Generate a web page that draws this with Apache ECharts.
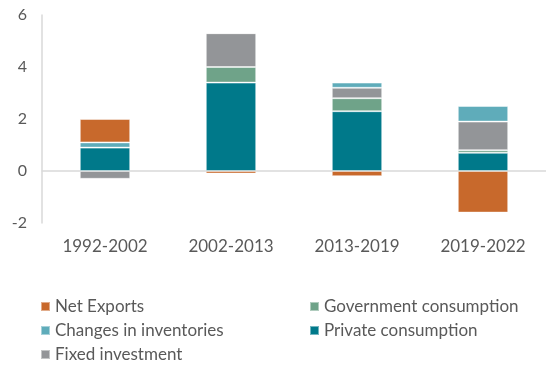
<!DOCTYPE html>
<html>
<head>
<meta charset="utf-8">
<script src="https://cdn.jsdelivr.net/npm/echarts@6/dist/echarts.min.js"></script>
<style>
  html, body { margin: 0; padding: 0; background: #fff; }
  #chart { width: 546px; height: 366px; }
</style>
</head>
<body>
<div id="chart"></div>
<script>
// Periods on the category axis
const periods = ['1992-2002', '2002-2013', '2013-2019', '2019-2022'];

// Contributions to growth, percentage points
const privateConsumption = [0.9, 3.4, 2.3, 0.7];
const governmentConsumption = [0.0, 0.6, 0.5, 0.1];
const fixedInvestment = [-0.3, 1.3, 0.4, 1.1];
const inventories = [0.2, 0.0, 0.2, 0.6];
const netExports = [0.9, -0.1, -0.2, -1.6];

const yTicks = { min: -2, max: 6, interval: 2 };

const colors = {
  netExports: '#C8692C',
  government: '#6FA389',
  inventories: '#5FACBA',
  privateCons: '#00798A',
  fixed: '#939598'
};

const FONT = 'Lato, Roboto, sans-serif';
const TEXT = '#595959';

function barSeries(name, data, color) {
  return {
    name: name,
    type: 'bar',
    stack: 'total',
    data: data,
    barWidth: '40%',
    itemStyle: { color: color, borderColor: 'rgba(255,255,255,0.45)', borderWidth: 1 }
  };
}

const chart = echarts.init(document.getElementById('chart'), null, { renderer: 'canvas' });

const legendCommon = {
  orient: 'vertical',
  itemWidth: 9,
  itemHeight: 9,
  itemGap: 7,
  icon: 'rect',
  textStyle: { color: TEXT, fontSize: 17, fontFamily: FONT },
  padding: 0,
  selectedMode: false
};

chart.setOption({
  animation: false,
  grid: { left: 42, right: -7, top: 15, height: 208 },
  legend: [
    Object.assign({}, legendCommon, {
      left: 40, top: 298,
      data: ['Net Exports', 'Changes in inventories', 'Fixed investment']
    }),
    Object.assign({}, legendCommon, {
      left: 309, top: 298,
      data: ['Government consumption', 'Private consumption']
    })
  ],
  xAxis: {
    type: 'category',
    data: periods,
    axisLine: { onZero: true, lineStyle: { color: '#D9D9D9', width: 1.5 } },
    axisTick: { show: false },
    axisLabel: { color: TEXT, fontSize: 17, fontFamily: FONT, margin: 15 },
    position: 'bottom'
  },
  yAxis: {
    type: 'value',
    min: yTicks.min,
    max: yTicks.max,
    interval: yTicks.interval,
    axisLine: { show: true, lineStyle: { color: '#D9D9D9', width: 1.5 } },
    axisTick: { show: false },
    splitLine: { show: false },
    axisLabel: { color: TEXT, fontSize: 16, fontFamily: FONT, margin: 15 }
  },
  series: [
    barSeries('Private consumption', privateConsumption, colors.privateCons),
    barSeries('Government consumption', governmentConsumption, colors.government),
    barSeries('Fixed investment', fixedInvestment, colors.fixed),
    barSeries('Changes in inventories', inventories, colors.inventories),
    barSeries('Net Exports', netExports, colors.netExports)
  ]
});
</script>
</body>
</html>
